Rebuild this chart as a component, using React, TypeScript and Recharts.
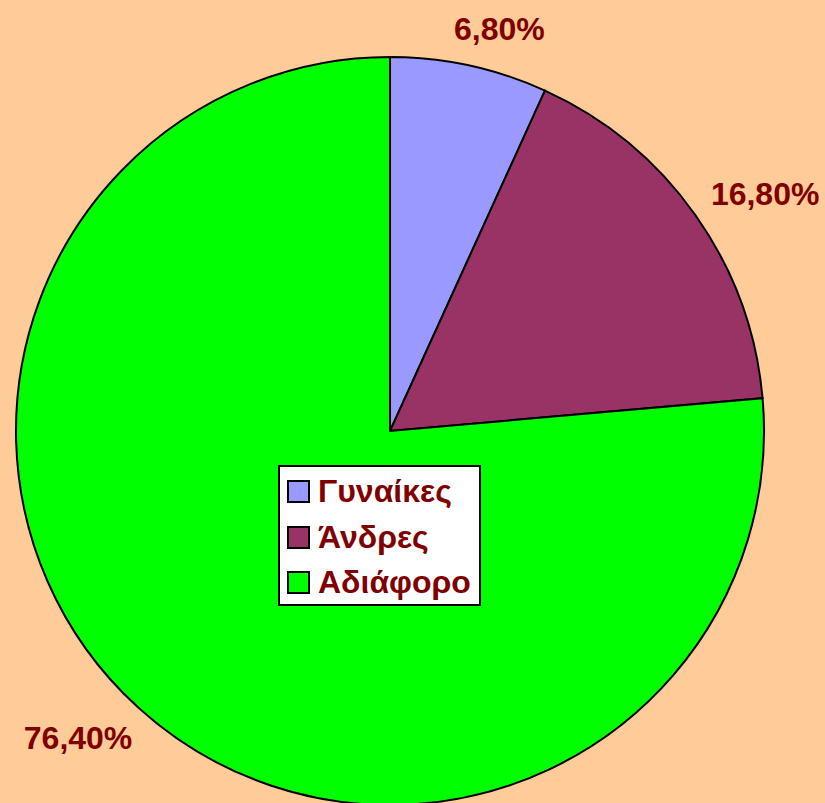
import React from "react";
import { PieChart, Pie, Cell, Legend } from "recharts";

const categories = ["Γυναίκες", "Άνδρες", "Αδιάφορο"];
const shares = [6.8, 16.8, 76.4];
const labels = ["6,80%", "16,80%", "76,40%"];
const colors = ["#9999FF", "#993366", "#00FF00"];

const data = categories.map((name, i) => ({ name, value: shares[i] }));

const RAD = Math.PI / 180;
const labelColor = "#800000";
const font = "'Liberation Sans', Arial, sans-serif";

const renderLabel = (props: any) => {
  const { cx, cy, midAngle, outerRadius, index } = props;
  const a = (midAngle - 3) * RAD;
  const r = outerRadius + 30 + 47 * Math.abs(Math.cos(a));
  const x = cx + r * Math.cos(a);
  const y = cy - r * Math.sin(a);
  return (
    <text
      x={x}
      y={y}
      textAnchor="middle"
      dominantBaseline="central"
      fill={labelColor}
      fontFamily={font}
      fontWeight="bold"
      fontSize={32}
    >
      {labels[index]}
    </text>
  );
};

const LegendBox = () => (
  <div
    style={{
      width: 199,
      height: 137,
      background: "#fff",
      border: "2px solid #000",
      boxSizing: "content-box",
    }}
  >
    {categories.map((c, i) => (
      <div
        key={c}
        style={{
          display: "flex",
          alignItems: "center",
          height: 45.5,
          marginTop: i === 0 ? 2 : 0,
        }}
      >
        <span
          style={{
            display: "inline-block",
            width: 19,
            height: 19,
            background: colors[i],
            border: "2px solid #000",
            marginLeft: 7,
            marginRight: 8,
            flexShrink: 0,
          }}
        />
        <span
          style={{
            color: labelColor,
            fontFamily: font,
            fontWeight: "bold",
            fontSize: 32,
            lineHeight: "45px",
            whiteSpace: "nowrap",
          }}
        >
          {c}
        </span>
      </div>
    ))}
  </div>
);

export default function App() {
  return (
    <div
      style={{
        position: "absolute",
        left: 0,
        top: 0,
        width: 825,
        height: 803,
        background: "#FFCC99",
        overflow: "hidden",
      }}
    >
      <PieChart width={825} height={803} margin={{ top: 0, right: 0, bottom: 0, left: 0 }}>
        <Pie
          data={data}
          dataKey="value"
          nameKey="name"
          cx={390}
          cy={431}
          outerRadius={374}
          startAngle={90}
          endAngle={-270}
          stroke="#000"
          strokeWidth={2}
          label={renderLabel}
          labelLine={false}
          isAnimationActive={false}
        >
          {data.map((d, i) => (
            <Cell key={d.name} fill={colors[i]} />
          ))}
        </Pie>
        <Legend
          content={() => <LegendBox />}
          wrapperStyle={{ position: "absolute", left: 278, top: 465, width: "auto" }}
        />
      </PieChart>
    </div>
  );
}
